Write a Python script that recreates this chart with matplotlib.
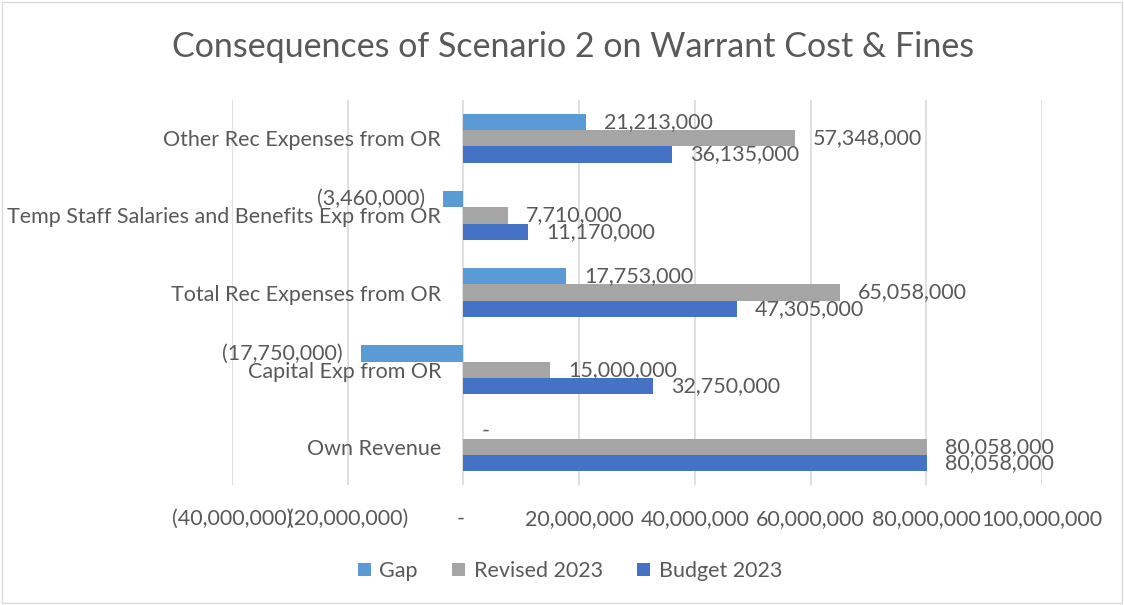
import matplotlib
matplotlib.use("Agg")
import matplotlib.pyplot as plt
from matplotlib.ticker import FuncFormatter, MultipleLocator
from matplotlib.patches import Rectangle

plt.rcParams['font.family'] = ['Lato', 'DejaVu Sans']

categories = ["Other Rec Expenses from OR",
              "Temp Staff Salaries and Benefits Exp from OR",
              "Total Rec Expenses from OR",
              "Capital Exp from OR",
              "Own Revenue"]
gap = [21213000, -3460000, 17753000, -17750000, 0]
revised_2023 = [57348000, 7710000, 65058000, 15000000, 80058000]
budget_2023 = [36135000, 11170000, 47305000, 32750000, 80058000]

series = [("Gap", gap, "#5B9BD5"),
          ("Revised 2023", revised_2023, "#A5A5A5"),
          ("Budget 2023", budget_2023, "#4472C4")]

text_color = "#595959"
fs = 15.5


def fmt(v):
    if v == 0:
        return "-"
    if v < 0:
        return "({:,.0f})".format(-v)
    return "{:,.0f}".format(v)


fig = plt.figure(figsize=(11.24, 6.05), dpi=100)
ax = fig.add_axes([0.2064, 0.198, 0.7206, 0.637])

h = 0.21
offsets = [-h, 0, h]
ypos = list(range(len(categories)))
for (name, vals, col), off in zip(series, offsets):
    ys = [y + off for y in ypos]
    ax.barh(ys, vals, height=h, color=col, label=name, zorder=3)
    for y, v in zip(ys, vals):
        if v < 0:
            ax.annotate(fmt(v), (v, y), xytext=(-13, 0), textcoords="offset points",
                        ha="right", va="center", fontsize=fs, color=text_color, zorder=4)
        else:
            ax.annotate(fmt(v), (v, y), xytext=(13, 0), textcoords="offset points",
                        ha="left", va="center", fontsize=fs, color=text_color, zorder=4)

ax.set_xlim(-40000000, 100000000)
ax.set_ylim(len(categories) - 0.5, -0.5)
ax.xaxis.set_major_locator(MultipleLocator(20000000))
ax.xaxis.set_major_formatter(FuncFormatter(lambda v, p: fmt(v) + (" " if v == 0 else "")))
ax.set_yticks(ypos)
ax.set_yticklabels(categories)
ax.spines['left'].set_position(('data', 0))
ax.tick_params(axis="both", length=0, labelsize=fs, labelcolor=text_color)
ax.tick_params(axis="x", pad=17)
ax.tick_params(axis="y", pad=16)
ax.grid(axis="x", color="#D9D9D9", linewidth=1.2, zorder=0)
for s in ax.spines.values():
    s.set_visible(False)

fig.text(0.51, 0.922, "Consequences of Scenario 2 on Warrant Cost & Fines",
         ha="center", va="center", fontsize=24.5, color=text_color)

ax.legend(loc="center", bbox_to_anchor=(0.507, 0.056), bbox_transform=fig.transFigure,
          ncol=3, frameon=False, fontsize=fs, handlelength=0.6, handleheight=0.6,
          handletextpad=0.4, columnspacing=1.6, labelcolor=text_color)

fig.patches.append(Rectangle((0.0015, 0.003), 0.997, 0.994, transform=fig.transFigure,
                             fill=False, edgecolor="#D9D9D9", linewidth=1))

fig.savefig("out.png", dpi=100)
